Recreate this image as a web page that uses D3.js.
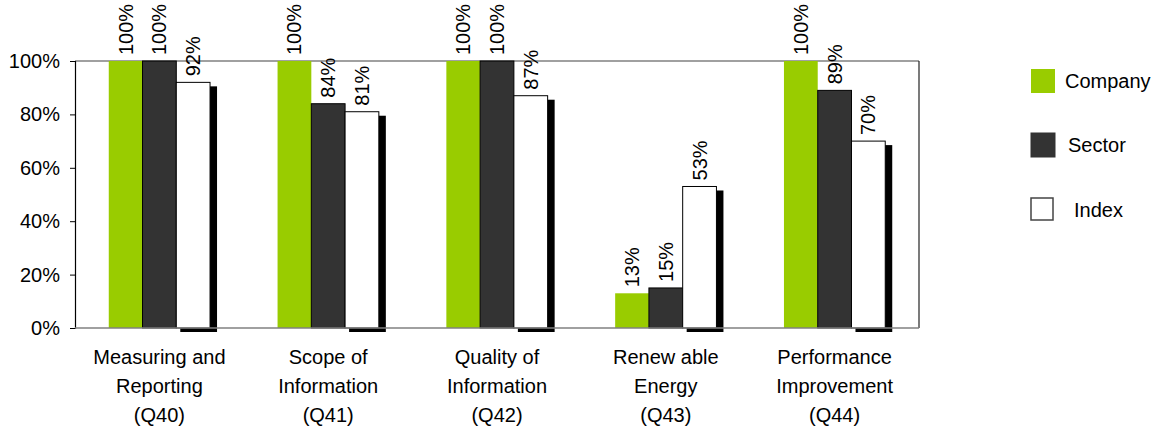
<!DOCTYPE html>
<html><head><meta charset="utf-8">
<script src="https://cdn.jsdelivr.net/npm/d3@7"></script>
<style>body{margin:0;background:#fff;}svg{display:block;font-family:"Liberation Sans",Arial,sans-serif;}</style>
</head><body><svg id="c" width="1154" height="429"></svg>
<script>
const categories = [["Measuring and","Reporting","(Q40)"],["Scope of","Information","(Q41)"],["Quality of","Information","(Q42)"],["Renew able","Energy","(Q43)"],["Performance","Improvement","(Q44)"]];
const seriesNames = ["Company","Sector","Index"];
const company = [100,100,100,13,100];
const sector = [100,84,100,15,89];
const index = [92,81,87,53,70];
const yTicks = [0,20,40,60,80,100];
const colors = ["#99cc00","#333333","#ffffff"];

const FS = 20;
const svg = d3.select("#c");
const L=75,R=919,T=61,B=328;
const x = d3.scaleBand().domain(d3.range(categories.length)).range([L,R]);
const y = d3.scaleLinear().domain([0,100]).range([B,T]);
const bw = x.bandwidth()/5;
const xs = d3.scaleBand().domain([0,1,2]).range([0,bw*3]);
const series=[company,sector,index];

// frame
svg.append("line").attr("x1",L).attr("x2",R).attr("y1",T).attr("y2",T).attr("stroke","#808080").attr("stroke-width",1.5);
svg.append("line").attr("x1",R).attr("x2",R).attr("y1",T).attr("y2",B).attr("stroke","#222").attr("stroke-width",1.2);

// y axis
const yAxis = d3.axisLeft(y).tickValues(yTicks).tickFormat(d=>d+"%").tickSize(5).tickPadding(10);
const ga = svg.append("g").attr("transform",`translate(${L},0)`).call(yAxis);
ga.select(".domain").attr("stroke","#000").attr("stroke-width",1.2);
ga.selectAll(".tick line").attr("stroke","#000");
ga.selectAll("text").attr("font-size",FS).attr("fill","#000").attr("font-family","Liberation Sans, Arial, sans-serif");

// shadows for index bars
const idx=2;
svg.append("g").selectAll("rect").data(index).join("rect")
  .attr("x",(d,i)=>x(i)+bw+xs(idx)+4).attr("y",d=>y(d)+4)
  .attr("width",bw+3).attr("height",d=>B-y(d))
  .attr("fill","#000");

// bars
series.forEach((s,k)=>{
  svg.append("g").selectAll("rect").data(s).join("rect")
    .attr("x",(d,i)=>x(i)+bw+xs(k)).attr("y",d=>y(d))
    .attr("width",bw).attr("height",d=>B-y(d))
    .attr("fill",colors[k])
    .attr("stroke",k===0?"none":"#000").attr("stroke-width",1);
  svg.append("g").selectAll("text").data(s).join("text")
    .attr("transform",(d,i)=>`translate(${x(i)+bw+xs(k)+bw/2+7},${y(d)-6}) rotate(-90)`)
    .attr("font-size",FS).attr("fill","#000").text(d=>d+"%");
});

// bottom axis line
svg.append("line").attr("x1",L).attr("x2",R).attr("y1",B).attr("y2",B).attr("stroke","#808080").attr("stroke-width",1.5);

// x labels
categories.forEach((c,i)=>{
  const t = svg.append("text").attr("text-anchor","middle").attr("font-size",FS).attr("fill","#000");
  c.forEach((line,j)=>{
    t.append("tspan").attr("x",x(i)+x.bandwidth()/2).attr("y",364+j*29).text(line);
  });
});

// legend
const leg = [{y:69,tx:1065},{y:133,tx:1068},{y:198,tx:1074}];
seriesNames.forEach((n,k)=>{
  svg.append("rect").attr("x",1031).attr("y",leg[k].y).attr("width",k===2?22:24).attr("height",k===2?22:24)
    .attr("fill",colors[k]).attr("stroke",k===0?"none":(k===1?"#333":"#444")).attr("stroke-width",k===2?1.5:1);
  svg.append("text").attr("x",leg[k].tx).attr("y",leg[k].y+19).attr("font-size",FS).attr("fill","#000").text(n);
});
</script></body></html>
